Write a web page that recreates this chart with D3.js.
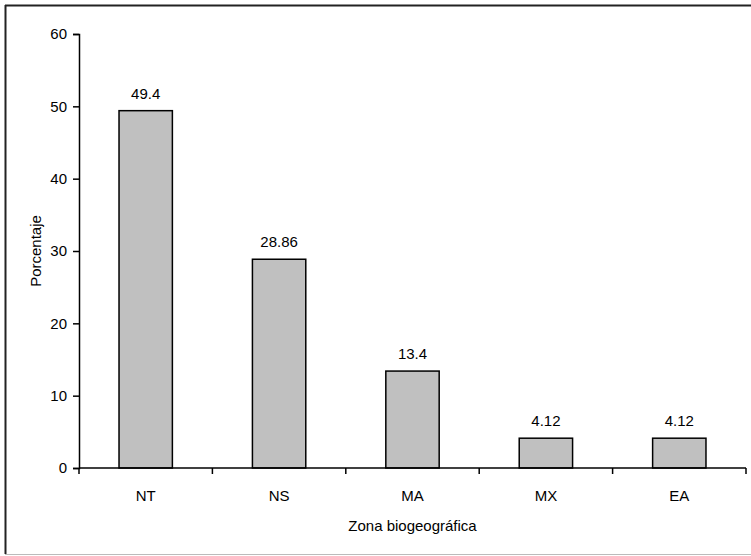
<!DOCTYPE html>
<html>
<head>
<meta charset="utf-8">
<script src="https://cdn.jsdelivr.net/npm/d3@7"></script>
<style>
  body { margin: 0; background: #fff; }
  text { font-family: "Liberation Sans", Arial, sans-serif; fill: #000; }
</style>
</head>
<body>
<div id="chart"></div>
<script>
// chart data
var zonas = ['NT', 'NS', 'MA', 'MX', 'EA'];
var porcentajes = [49.4, 28.86, 13.4, 4.12, 4.12];
var etiquetas = ['49.4', '28.86', '13.4', '4.12', '4.12'];
var yTicks = [0, 10, 20, 30, 40, 50, 60];

var width = 751;
var height = 556;
var margin = {top: 34, right: 5, bottom: 88, left: 79};
var fontSize = '15px';

var svg = d3.select('#chart').append('svg')
    .attr('width', width)
    .attr('height', height);

svg.append('rect')
    .attr('width', width)
    .attr('height', height)
    .attr('fill', '#fff');

// frame (right side cut off in the original)
svg.append('line').attr('x1', 5).attr('x2', width).attr('y1', 5.5).attr('y2', 5.5)
    .attr('stroke', '#222').attr('stroke-width', 2);
svg.append('line').attr('x1', 5.5).attr('x2', 5.5).attr('y1', 5).attr('y2', 554)
    .attr('stroke', '#222').attr('stroke-width', 2);
svg.append('line').attr('x1', 5).attr('x2', width).attr('y1', 554.5).attr('y2', 554.5)
    .attr('stroke', '#bbb').attr('stroke-width', 1);

var x = d3.scaleBand()
    .domain(zonas)
    .range([margin.left, width - margin.right])
    .paddingInner(0.6)
    .paddingOuter(0.3);

var y = d3.scaleLinear()
    .domain([0, 60])
    .range([height - margin.bottom, margin.top]);

var step = x.step();

// bars
svg.append('g').selectAll('rect')
    .data(zonas)
    .enter()
    .append('rect')
    .attr('x', function(d){ return x(d); })
    .attr('y', function(d, i){ return y(porcentajes[i]); })
    .attr('width', x.bandwidth())
    .attr('height', function(d, i){ return y(0) - y(porcentajes[i]); })
    .attr('fill', '#c0c0c0')
    .attr('stroke', '#000')
    .attr('stroke-width', 1.5);

// value labels
svg.append('g').selectAll('text')
    .data(zonas)
    .enter()
    .append('text')
    .attr('x', function(d){ return x(d) + x.bandwidth() / 2; })
    .attr('y', function(d, i){ return y(porcentajes[i]) - 12; })
    .attr('text-anchor', 'middle')
    .style('font-size', fontSize)
    .text(function(d, i){ return etiquetas[i]; });

// y axis
var yAxis = svg.append('g')
    .attr('transform', 'translate(' + margin.left + ',0)')
    .call(d3.axisLeft(y).tickValues(yTicks).tickSize(6).tickPadding(6));
yAxis.select('.domain').attr('stroke', '#000').attr('stroke-width', 1.5);
yAxis.selectAll('line').attr('stroke', '#000').attr('stroke-width', 1.5);
yAxis.selectAll('text').style('font-size', fontSize).style('font-family', '"Liberation Sans", Arial, sans-serif');

// x axis: line, ticks at category boundaries, centred labels
var xAxis = svg.append('g');
xAxis.append('line')
    .attr('x1', margin.left).attr('x2', width - margin.right)
    .attr('y1', y(0)).attr('y2', y(0))
    .attr('stroke', '#000').attr('stroke-width', 1.5);
xAxis.selectAll('.tick')
    .data(d3.range(zonas.length + 1))
    .enter()
    .append('line')
    .attr('x1', function(i){ return margin.left + i * step; })
    .attr('x2', function(i){ return margin.left + i * step; })
    .attr('y1', y(0)).attr('y2', y(0) + 6)
    .attr('stroke', '#000').attr('stroke-width', 1.5);
xAxis.selectAll('text')
    .data(zonas)
    .enter()
    .append('text')
    .attr('x', function(d){ return x(d) + x.bandwidth() / 2; })
    .attr('y', y(0) + 33)
    .attr('text-anchor', 'middle')
    .style('font-size', fontSize)
    .text(function(d){ return d; });

// axis titles
svg.append('text')
    .attr('x', (margin.left + width - margin.right) / 2)
    .attr('y', 531)
    .attr('text-anchor', 'middle')
    .style('font-size', fontSize)
    .text('Zona biogeográfica');

svg.append('text')
    .attr('transform', 'translate(41,' + ((y(0) + y(60)) / 2) + ') rotate(-90)')
    .attr('text-anchor', 'middle')
    .style('font-size', fontSize)
    .text('Porcentaje');
</script>
</body>
</html>
